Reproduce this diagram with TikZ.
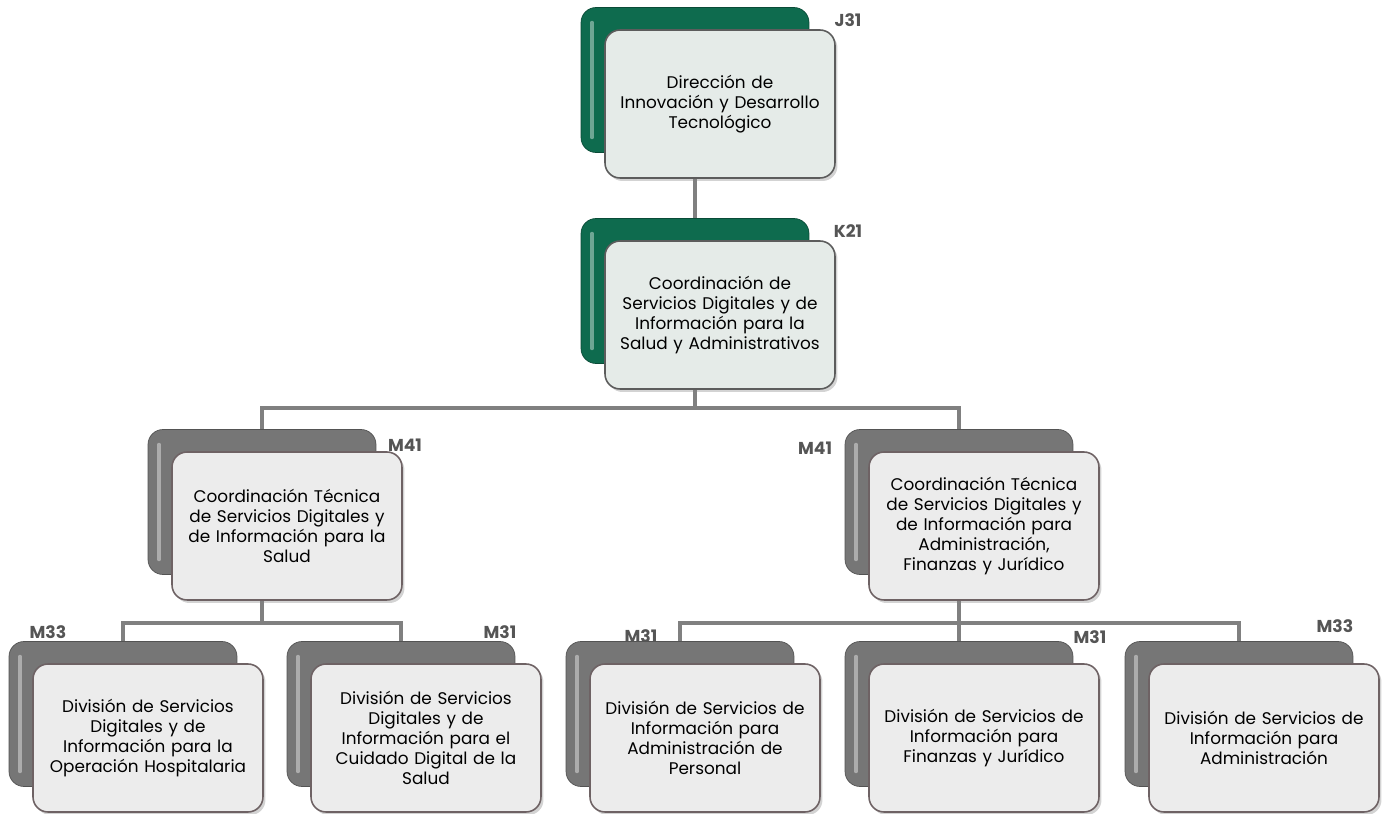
\documentclass[tikz,border=0pt]{standalone}
\usepackage{fontspec}
\setmainfont{Poppins}
\usepackage{tikz}
\usetikzlibrary{positioning,shadows,calc}

\definecolor{unitgreen}{HTML}{0E6B4E}
\definecolor{unitgray}{HTML}{767676}
\definecolor{frontgreen}{HTML}{E5EBE8}
\definecolor{frontgray}{HTML}{ECECEC}
\definecolor{edgedark}{HTML}{5C5C5C}
\definecolor{edgepink}{HTML}{6E6264}
\definecolor{linkgray}{HTML}{808080}
\definecolor{codegray}{HTML}{555555}

\pgfdeclarelayer{background}
\pgfsetlayers{background,main}

\begin{document}
\begin{tikzpicture}[
                    x=0.02cm, y=-0.02cm,
                    backbox/.style={rounded corners=0.3cm, minimum width=4.56cm, minimum height=2.9cm,
                        path picture={\draw[white, opacity=0.4, line width=2pt, line cap=round]
                            ([xshift=0.22cm, yshift=-0.3cm]path picture bounding box.north west) --
                            ([xshift=0.22cm, yshift=0.3cm]path picture bounding box.south west);}},
                    backgreen/.style={backbox, fill=unitgreen, draw=unitgreen!70!black},
                    backgray/.style={backbox, fill=unitgray, draw=unitgray!70!black},
                    frontbox/.style={rounded corners=0.3cm, minimum width=4.6cm, minimum height=2.96cm,
                        line width=0.9pt, align=center, text width=4.4cm, inner xsep=0.1cm,
                        font=\fontsize{9.6}{11.4}\selectfont,
                        drop shadow={opacity=0.35, shadow xshift=0.05cm, shadow yshift=-0.06cm},
                        xshift=0.5cm, yshift=-0.48cm},
                    frontgreen/.style={frontbox, fill=frontgreen, draw=edgedark},
                    frontgray/.style={frontbox, fill=frontgray, draw=edgepink},
                    code/.style={font=\fontsize{9.8}{11}\selectfont\bfseries, text=codegray},
                    link/.style={draw=linkgray, line width=1.8pt}
                ]
                    \useasboundingbox (0,0) rectangle (1384,814);

                    % direccion y coordinacion
                    \node[backgreen] (j31b) at (695,80) {};
                    \node[frontgreen] (j31) at (j31b) {Dirección de\\Innovación y Desarrollo\\Tecnológico};
                    \node[code] (j31c) at (848,20) {J31};

                    \node[backgreen] (k21b) at (695,291) {};
                    \node[frontgreen] (k21) at (k21b) {Coordinación de\\Servicios Digitales y de\\Información para la\\Salud y Administrativos};
                    \node[code] (k21c) at (848,231) {K21};

                    % coordinaciones tecnicas
                    \node[backgray] (saludb) at (262,502) {};
                    \node[frontgray] (salud) at (saludb) {Coordinación Técnica\\de Servicios Digitales y\\de Información para la\\Salud};
                    \node[code] (saludc) at (405,445) {M41};

                    \node[backgray] (adminb) at (959,502) {};
                    \node[frontgray] (admin) at (adminb) {Coordinación Técnica\\de Servicios Digitales y\\de Información para\\Administración,\\Finanzas y Jurídico};
                    \node[code] (adminc) at (815,448) {M41};

                    % divisiones
                    \node[backgray] (hospb) at (123,714) {};
                    \node[frontgray] (hosp) at (hospb) {División de Servicios\\Digitales y de\\Información para la\\Operación Hospitalaria};
                    \node[code] (hospc) at (48,632) {M33};

                    \node[backgray] (cuidb) at (401,714) {};
                    \node[frontgray] (cuid) at (cuidb) {División de Servicios\\Digitales y de\\Información para el\\Cuidado Digital de la\\Salud};
                    \node[code] (cuidc) at (500,632) {M31};

                    \node[backgray] (persb) at (680,714) {};
                    \node[frontgray] (pers) at (persb) {División de Servicios de\\Información para\\Administración de\\Personal};
                    \node[code] (persc) at (641,636) {M31};

                    \node[backgray] (finb) at (959,714) {};
                    \node[frontgray] (fin) at (finb) {División de Servicios de\\Información para\\Finanzas y Jurídico};
                    \node[code] (finc) at (1090,637) {M31};

                    \node[backgray] (adb) at (1239,714) {};
                    \node[frontgray] (ad) at (adb) {División de Servicios de\\Información para\\Administración};
                    \node[code] (adc) at (1335,626) {M33};

                    % lineas
                    \coordinate (bus1) at (695,408);
                    \coordinate (bus2) at (262,623);
                    \coordinate (bus3) at (959,623);
                    \begin{pgfonlayer}{background}
                        \draw[link] (j31b.center) -- (k21b.center);
                        \draw[link] (k21b.center) -- (bus1);
                        \draw[link] (saludb.center) |- (bus1) -| (adminb.center);
                        \draw[link] (saludb.center) -- (bus2);
                        \draw[link] (hospb.center) |- (bus2) -| (cuidb.center);
                        \draw[link] (adminb.center) -- (finb.center);
                        \draw[link] (persb.center) |- (bus3) -| (adb.center);
                    \end{pgfonlayer}
                \end{tikzpicture}
\end{document}
